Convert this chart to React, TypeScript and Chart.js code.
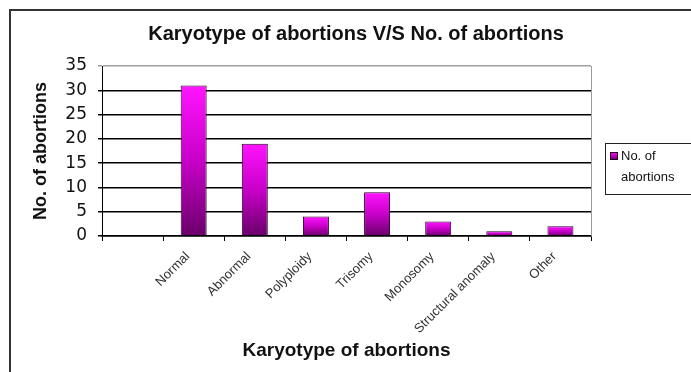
import React, { useEffect, useRef } from 'react';
import { Chart, registerables } from 'chart.js';

Chart.register(...registerables);

// ---- data ----
const categories = ['', 'Normal', 'Abnormal', 'Polyploidy', 'Trisomy', 'Monosomy', 'Structural anomaly', 'Other'];
const abortions = [null, 31, 19, 4, 9, 3, 1, 2];
const yMin = 0;
const yMax = 35;
const yStep = 5;
const chartTitle = 'Karyotype of abortions V/S No. of abortions';
const xTitle = 'Karyotype of abortions';
const yTitle = 'No. of abortions';
const seriesName = 'No. of abortions';
const legendLines = ['No. of', 'abortions'];

const SANS = "'Liberation Sans', Arial, sans-serif";
const DEJAVU = "'DejaVu Sans', sans-serif";

function barGradient(ctx: CanvasRenderingContext2D, top: number, bottom: number) {
  const g = ctx.createLinearGradient(0, top, 0, bottom);
  g.addColorStop(0, '#ff14ff');
  g.addColorStop(0.5, '#c800c8');
  g.addColorStop(1, '#6a006a');
  return g;
}

export default function App() {
  const ref = useRef<HTMLCanvasElement>(null);

  useEffect(() => {
    document.body.style.margin = '0';
    const canvas = ref.current;
    if (!canvas) return;

    const deco = {
      id: 'deco',
      beforeDraw(chart: any) {
        const { ctx, width, height } = chart;
        ctx.save();
        ctx.fillStyle = '#ffffff';
        ctx.fillRect(0, 0, width, height);
        ctx.fillStyle = '#111111';
        ctx.font = `bold 20px ${SANS}`;
        ctx.textAlign = 'center';
        ctx.textBaseline = 'middle';
        ctx.fillText(chartTitle, 356, 34);
        ctx.restore();
      },
      afterDraw(chart: any) {
        const { ctx, chartArea: a, width, height } = chart;
        ctx.save();
        // right border of plot area
        ctx.strokeStyle = '#9a9a9a';
        ctx.lineWidth = 1;
        const rx = Math.round(a.right) + 0.5;
        ctx.beginPath();
        ctx.moveTo(rx, a.top);
        ctx.lineTo(rx, a.bottom);
        ctx.stroke();
        // outer chart border
        ctx.strokeStyle = '#333333';
        ctx.lineWidth = 2;
        ctx.beginPath();
        ctx.moveTo(10, height);
        ctx.lineTo(10, 10);
        ctx.lineTo(width, 10);
        ctx.stroke();
        // legend
        ctx.strokeStyle = '#222222';
        ctx.lineWidth = 1;
        ctx.strokeRect(605.5, 143.5, 120, 51);
        ctx.fillStyle = barGradient(ctx, 152, 159);
        ctx.fillRect(610, 152, 7, 7);
        ctx.strokeStyle = '#2a002a';
        ctx.strokeRect(610.5, 152.5, 7, 7);
        ctx.fillStyle = '#111111';
        ctx.font = `13px ${SANS}`;
        ctx.textAlign = 'left';
        ctx.textBaseline = 'middle';
        ctx.fillText(legendLines[0], 621, 156);
        ctx.fillText(legendLines[1], 621, 177);
        ctx.restore();
      },
    };

    const chart = new Chart(canvas, {
      type: 'bar',
      data: {
        labels: categories,
        datasets: [
          {
            label: seriesName,
            data: abortions as any,
            backgroundColor: (c: any) => {
              const ch = c.chart;
              const y = ch.scales && ch.scales.y;
              const v = c.raw;
              if (!y || v == null) return '#c000c0';
              const top = y.getPixelForValue(v);
              const bot = y.getPixelForValue(0);
              if (!isFinite(top) || !isFinite(bot) || top === bot) return '#c000c0';
              return barGradient(ch.ctx, top, bot);
            },
            borderColor: '#2a002a',
            borderWidth: 1,
            barPercentage: 0.425,
            categoryPercentage: 1.0,
          },
        ],
      },
      options: {
        responsive: false,
        animation: false,
        devicePixelRatio: 1,
        layout: { padding: { top: 66, right: 100, bottom: 10, left: 30 } },
        plugins: {
          legend: { display: false },
          title: { display: false },
          tooltip: { enabled: false },
        },
        scales: {
          x: {
            offset: true,
            grid: {
              display: true,
              drawOnChartArea: false,
              drawTicks: true,
              tickLength: 5,
              offset: true,
              color: '#000000',
            },
            border: { display: true, color: '#000000', width: 1.5 },
            ticks: {
              autoSkip: false,
              maxRotation: 45,
              minRotation: 45,
              padding: 8,
              labelOffset: -6,
              color: '#333333',
              font: { family: SANS, size: 13 },
            },
            title: {
              display: true,
              text: xTitle,
              color: '#111111',
              font: { family: SANS, size: 19, weight: 'bold' },
              padding: 0,
            },
            afterFit: (s: any) => {
              s.height = 126;
            },
          },
          y: {
            min: yMin,
            max: yMax,
            ticks: {
              stepSize: yStep,
              padding: 11,
              color: '#111111',
              font: { family: DEJAVU, size: 17 },
            },
            grid: {
              color: (c: any) => (c.tick && c.tick.value === yMax ? '#a0a0a0' : '#000000'),
              lineWidth: 1.5,
              tickLength: 4,
              drawTicks: true,
            },
            border: { display: true, color: '#000000', width: 1 },
            title: {
              display: true,
              text: yTitle,
              color: '#111111',
              font: { family: SANS, size: 18, weight: 'bold' },
              padding: 0,
            },
            afterFit: (s: any) => {
              s.width = 72;
            },
          },
        },
      } as any,
      plugins: [deco],
    });

    return () => chart.destroy();
  }, []);

  return (
    <div style={{ position: 'absolute', left: 0, top: 0, width: 691, height: 372 }}>
      <canvas ref={ref} width={691} height={372} style={{ display: 'block', width: 691, height: 372 }} />
    </div>
  );
}
